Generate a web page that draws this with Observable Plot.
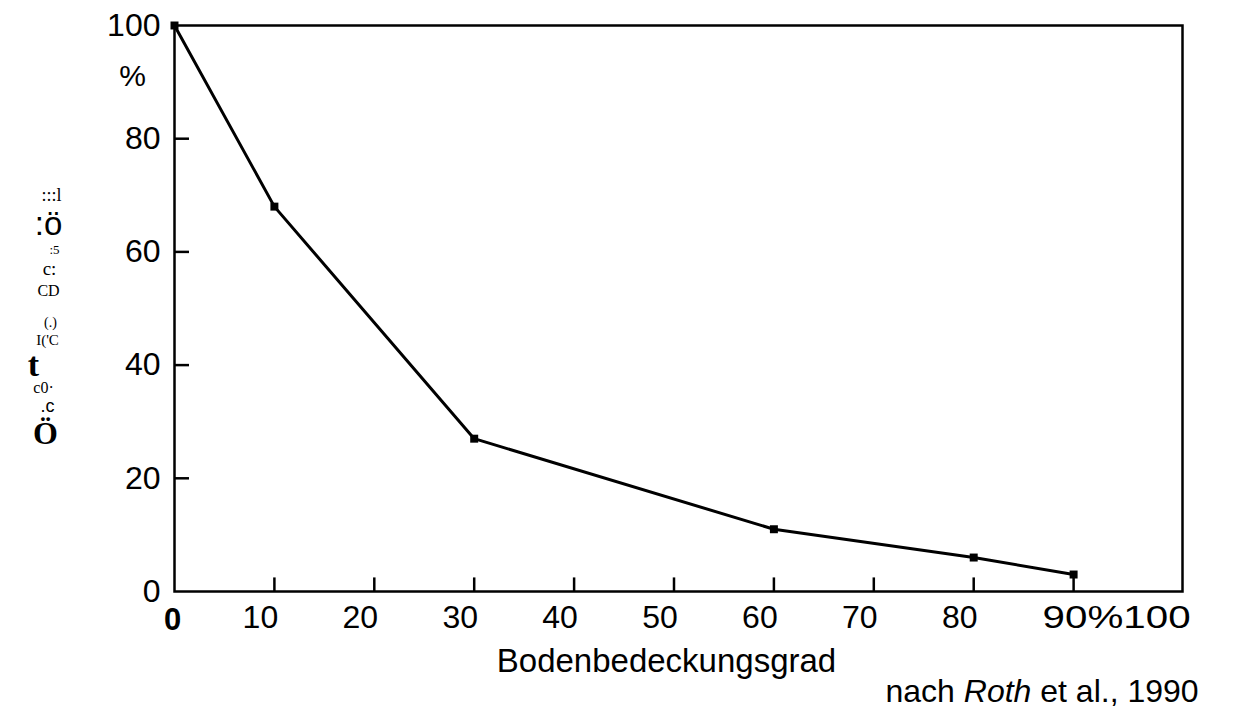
<!DOCTYPE html>
<html><head><meta charset="utf-8">
<script src="https://cdn.jsdelivr.net/npm/d3@7"></script>
<script src="https://cdn.jsdelivr.net/npm/@observablehq/plot@0.6"></script>
<style>body{margin:0;background:#fff} svg{display:block}</style>
</head><body><div id="chart"></div>
<script>
// ---- data ----
const coverage = [0, 10, 30, 60, 80, 90];
const erosion = [100, 68, 27, 11, 6, 3];
const xTickValues = [0, 10, 20, 30, 40, 50, 60, 70, 80, 90];
const xTickLabels = ["0", "10", "20", "30", "40", "50", "60", "70", "80", "90%100"];
const xInnerTicks = [10, 20, 30, 40, 50, 60, 70, 80, 90];
const yTickValues = [0, 20, 40, 60, 80, 100];
const yTickLabels = ["0", "20", "40", "60", "80", "100"];
const yInnerTicks = [20, 40, 60, 80];
const yUnit = "%";
const xTitle = "Bodenbedeckungsgrad";
const sourceParts = ["nach ", "Roth", " et al., 1990"];
const yTitleFragments = [":::l", ":ö", ":5", "c:", "CD", "(.)", "I('C", "t", "c0·", ".c", "Ö"];

// ---- layout for the scanned (garbled) y title fragments ----
const fragLayout = [
  {y: 70.0, cx: 51, size: 18, family: "Liberation Serif", weight: 400},
  {y: 64.8, cx: 48, size: 33, family: "Liberation Sans", weight: 400},
  {y: 60.4, cx: 54, size: 13, family: "Liberation Serif", weight: 400},
  {y: 57.0, cx: 49, size: 19, family: "Liberation Serif", weight: 400},
  {y: 53.2, cx: 48, size: 16, family: "Liberation Serif", weight: 400},
  {y: 47.6, cx: 50, size: 14, family: "Liberation Serif", weight: 400},
  {y: 44.4, cx: 47, size: 15, family: "Liberation Serif", weight: 400},
  {y: 40.0, cx: 33, size: 34, family: "Liberation Serif", weight: 700},
  {y: 35.9, cx: 43, size: 16, family: "Liberation Serif", weight: 400},
  {y: 32.8, cx: 47, size: 18, family: "Liberation Sans", weight: 400},
  {y: 27.8, cx: 45, size: 32, family: "Liberation Serif", weight: 700}
];

const pts = coverage.map((c, i) => ({c, e: erosion[i]}));
const xLabels = xTickValues.map((v, i) => ({v, t: xTickLabels[i]}));

const fragMarks = yTitleFragments.map((t, i) => {
  const L = fragLayout[i];
  return Plot.text([t], {
    y: () => L.y, frameAnchor: "left", dx: L.cx - 174,
    textAnchor: "middle", lineAnchor: "middle",
    fontSize: L.size, fontFamily: L.family, fontWeight: L.weight, fill: "black"
  });
});

const chart = Plot.plot({
  width: 1236,
  height: 707,
  marginLeft: 174,
  marginRight: 54,
  marginTop: 25,
  marginBottom: 116,
  style: {fontFamily: "Liberation Sans, Arial, sans-serif", color: "black", background: "white"},
  x: {domain: [0, 100.9], axis: null},
  y: {domain: [0, 100], axis: null},
  marks: [
    Plot.frame({stroke: "black", strokeWidth: 2.5}),
    Plot.ruleX(xInnerTicks, {x: d => d, y1: 0, y2: 2.4, stroke: "black", strokeWidth: 2.5}),
    Plot.ruleY(yInnerTicks, {y: d => d, x1: 0, x2: 1.5, stroke: "black", strokeWidth: 2.5}),
    Plot.line(pts, {x: "c", y: "e", stroke: "black", strokeWidth: 3}),
    Plot.dot(pts, {x: "c", y: "e", symbol: "square", r: 4.5, fill: "black"}),
    // y tick labels
    Plot.text(yTickValues.map((v, i) => ({v, t: yTickLabels[i]})), {
      y: "v", text: "t", frameAnchor: "left", dx: -14, textAnchor: "end", lineAnchor: "middle",
      fontSize: 32, fill: "black"
    }),
    Plot.text([yUnit], {frameAnchor: "top-left", dx: -42, dy: 51, textAnchor: "middle", lineAnchor: "middle", fontSize: 30, fill: "black"}),
    // x tick labels
    Plot.text(xLabels.filter(d => d.v > 0 && d.v < 90), {
      x: "v", text: "t", frameAnchor: "bottom", dx: -14, dy: 26, textAnchor: "middle", lineAnchor: "middle",
      fontSize: 32, fill: "black"
    }),
    Plot.text(xLabels.filter(d => d.v === 0), {
      x: "v", text: "t", frameAnchor: "bottom", dx: -2, dy: 29, textAnchor: "middle", lineAnchor: "middle",
      fontSize: 31, fontWeight: 700, fill: "black"
    }),
    Plot.text(xLabels.filter(d => d.v === 90), {
      x: "v", text: "t", frameAnchor: "bottom", dx: -31, dy: 26, textAnchor: "start", lineAnchor: "middle",
      fontSize: 32, fill: "black", ariaDescription: "last-x-label"
    }),
    // x title
    Plot.text([xTitle], {frameAnchor: "bottom", dx: -12, dy: 80, lineAnchor: "bottom", fontSize: 33, fill: "black"}),
    // source
    Plot.text([sourceParts.join("")], {frameAnchor: "bottom-right", dx: -297, dy: 110, textAnchor: "start", lineAnchor: "bottom", fontSize: 32, fill: "black", ariaDescription: "source"}),
    ...fragMarks
  ]
});

document.getElementById("chart").appendChild(chart);

// stretch "90%100" as in the scan
d3.select(chart).selectAll('g[aria-description="last-x-label"] text')
  .attr("textLength", 148).attr("lengthAdjust", "spacingAndGlyphs");

// italic author name in source line
d3.select(chart).selectAll('g[aria-description="source"] text').each(function() {
  const t = d3.select(this);
  t.text(null);
  sourceParts.forEach((p, i) => {
    t.append("tspan").attr("font-style", i === 1 ? "italic" : "normal").text(p);
  });
});
</script>
</body></html>
